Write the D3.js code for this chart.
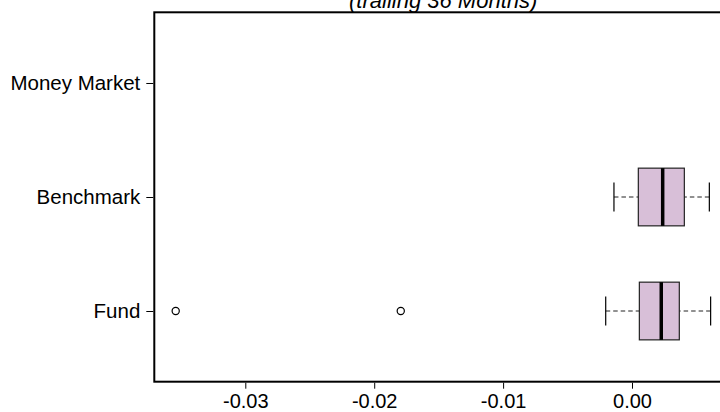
<!DOCTYPE html>
<html>
<head>
<meta charset="utf-8">
<script src="https://cdn.jsdelivr.net/npm/d3@7"></script>
<style>
html,body{margin:0;padding:0;background:#fff;}
svg{display:block;font-family:"Liberation Sans",Arial,Helvetica,sans-serif;}
</style>
</head>
<body>
<svg id="chart" width="720" height="412"></svg>
<script>
// ---- data ----
const categories = ["Fund", "Benchmark", "Money Market"];
const whiskerLow  = [-0.00204, -0.00140, null];
const q1          = [ 0.00057,  0.00049, null];
const medians     = [ 0.00227,  0.00238, null];
const q3          = [ 0.00367,  0.00406, null];
const whiskerHigh = [ 0.00610,  0.00600, null];
const outliers    = [[-0.0354, -0.01794], [], []];
const xTicks      = [-0.03, -0.02, -0.01, 0.00];
const xTickLabels = ["-0.03", "-0.02", "-0.01", "0.00"];
const title       = "(trailing 36 Months)";

(function () {
// ---- layout ----
const svg = d3.select("#chart");
const plotLeft = 154.3, plotTop = 12.3, plotBottom = 381.7;

const allVals = [].concat(whiskerLow, whiskerHigh, ...outliers).filter(v => v != null);
const dmin = d3.min(allVals), dmax = d3.max(allVals);
const pad = 0.04 * (dmax - dmin);
const xDomain = [dmin - pad, dmax + pad];
const pxPerUnit = 12890;
const plotRight = plotLeft + (xDomain[1] - xDomain[0]) * pxPerUnit;

const x = d3.scaleLinear().domain(xDomain).range([plotLeft, plotRight]);
const y = d3.scaleLinear().domain([0.5 - 0.12, categories.length + 0.5 + 0.12]).range([plotBottom, plotTop]);

const boxHalf = 0.253, capHalf = 0.127;

// boxes
categories.forEach((c, i) => {
  if (medians[i] == null) return;
  const yc = i + 1;
  const g = svg.append("g");
  g.append("line").attr("x1", x(whiskerLow[i])).attr("x2", x(q1[i]))
    .attr("y1", y(yc)).attr("y2", y(yc))
    .attr("stroke", "#222").attr("stroke-width", 1).attr("stroke-dasharray", "4.5,3");
  g.append("line").attr("x1", x(whiskerHigh[i])).attr("x2", x(q3[i]))
    .attr("y1", y(yc)).attr("y2", y(yc))
    .attr("stroke", "#222").attr("stroke-width", 1).attr("stroke-dasharray", "4.5,3");
  [whiskerLow[i], whiskerHigh[i]].forEach(v => {
    g.append("line").attr("x1", x(v)).attr("x2", x(v))
      .attr("y1", y(yc + capHalf)).attr("y2", y(yc - capHalf))
      .attr("stroke", "#000").attr("stroke-width", 1.2);
  });
  g.append("rect").attr("x", x(q1[i])).attr("width", x(q3[i]) - x(q1[i]))
    .attr("y", y(yc + boxHalf)).attr("height", y(yc - boxHalf) - y(yc + boxHalf))
    .attr("fill", "#D8BFD8").attr("stroke", "#222").attr("stroke-width", 1.2);
  g.append("line").attr("x1", x(medians[i])).attr("x2", x(medians[i]))
    .attr("y1", y(yc + boxHalf)).attr("y2", y(yc - boxHalf))
    .attr("stroke", "#000").attr("stroke-width", 3.5);
  outliers[i].forEach(v => {
    g.append("circle").attr("cx", x(v)).attr("cy", y(yc)).attr("r", 3.6)
      .attr("fill", "none").attr("stroke", "#000").attr("stroke-width", 1.2);
  });
});

// frame
svg.append("rect").attr("x", plotLeft).attr("y", plotTop)
  .attr("width", plotRight - plotLeft).attr("height", plotBottom - plotTop)
  .attr("fill", "none").attr("stroke", "#000").attr("stroke-width", 2);

// x axis
const xAxis = d3.axisBottom(x).tickValues(xTicks)
  .tickFormat((d, i) => xTickLabels[i]).tickSize(6).tickSizeOuter(0);
const gx = svg.append("g").attr("transform", `translate(0,${plotBottom + 1})`).call(xAxis);
gx.select(".domain").remove();
gx.selectAll(".tick line").attr("stroke", "#000");
gx.selectAll(".tick text").attr("font-size", 20).attr("fill", "#000").attr("dy", null).attr("y", 25.5);

// y axis
const yAxis = d3.axisLeft(y).tickValues(categories.map((c, i) => i + 1))
  .tickFormat((d) => categories[d - 1]).tickSize(7).tickSizeOuter(0);
const gy = svg.append("g").attr("transform", `translate(${plotLeft - 1},0)`).call(yAxis);
gy.select(".domain").remove();
gy.selectAll(".tick line").attr("stroke", "#000");
gy.selectAll(".tick text").attr("font-size", 20.5).attr("fill", "#000").attr("x", -13);

// title
svg.append("text").attr("x", (plotLeft + plotRight) / 2).attr("y", 8)
  .attr("text-anchor", "middle").attr("font-size", 22).attr("font-style", "italic")
  .attr("fill", "#000").text(title);
})();
</script>
</body>
</html>
